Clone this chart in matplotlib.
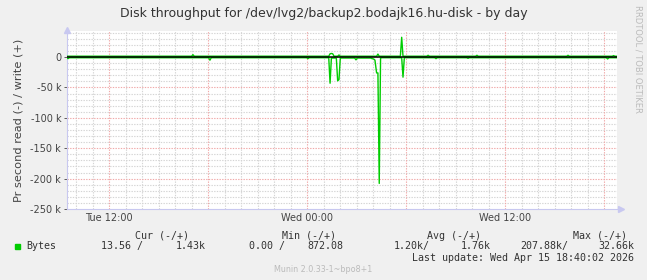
import matplotlib
matplotlib.use("Agg")
import matplotlib.pyplot as plt
from matplotlib.ticker import FixedLocator, MultipleLocator

# hours counted from Tue 00:00
read_hours = [9.42, 9.5, 9.58, 18.02, 18.1, 18.18, 23.96, 24.04, 24.12,
              25.3, 25.38, 25.46, 25.76, 25.84, 25.92, 26.0, 26.87, 26.95, 27.03,
              27.84, 27.92, 28.02, 28.1, 28.2, 28.28, 28.36, 28.44, 28.52,
              29.72, 29.8, 29.88, 31.72, 31.8, 31.88, 33.66, 33.74, 33.82,
              42.12, 42.2, 42.28, 42.75]
read_bytes = [1000, 2500, 1000, 1000, 5000, 1000, 1000, 2500, 1000,
              1000, 43000, 1500, 1500, 39000, 37000, 1500, 1500, 4500, 1500,
              1500, 2500, 3000, 5000, 26000, 26000, 207880, 1500, 1000,
              1000, 33000, 1000, 1000, 2500, 1000, 1000, 2000, 1000,
              1000, 3000, 1000, 1000]

write_hours = [9.42, 16.99, 17.07, 17.15, 25.3, 25.38, 25.46, 25.54, 25.62,
               25.84, 25.92, 26.0, 28.2, 28.28, 28.36, 29.64, 29.72, 29.8,
               31.24, 31.32, 31.4, 34.2, 34.28, 34.36, 39.72, 39.8, 39.88,
               42.48, 42.56, 42.64, 42.75]
write_bytes = [1500, 1500, 4000, 1500, 1500, 5500, 6000, 5500, 1500,
               1500, 3500, 1500, 1500, 5000, 1500, 1500, 32660, 1500,
               1500, 3000, 1500, 1500, 3000, 1500, 1500, 3000, 1500,
               1500, 2500, 1500, 1430]

x_tick_hours = [12, 24, 36]
x_tick_labels = ["Tue 12:00", "Wed 00:00", "Wed 12:00"]
y_ticks = [0, -50000, -100000, -150000, -200000, -250000]
y_tick_labels = ["0", "-50 k", "-100 k", "-150 k", "-200 k", "-250 k"]

series_name = "Bytes"
cur_vals = ("13.56", "1.43k")
min_vals = ("0.00", "872.08")
avg_vals = ("1.20k", "1.76k")
max_vals = ("207.88k", "32.66k")

BG = "#F0F0F0"
GREEN = "#00CC00"
AXIS = "#C8C8F0"
TXT = "#444444"
W, H = 647, 280

fig = plt.figure(figsize=(W / 100, H / 100), dpi=100, facecolor=BG)
ax = fig.add_axes([66.7 / W, 1 - 209 / H, 550 / W, 178 / H])
ax.set_facecolor("white")

ax.plot(write_hours, write_bytes, color=GREEN, lw=1.0, zorder=3)
ax.plot(read_hours, [-v for v in read_bytes], color=GREEN, lw=1.0, zorder=3)
ax.axhline(0, color="black", lw=1.1, zorder=4)

ax.set_xlim(9.42, 42.75)
ax.set_ylim(-250000, 43000)

ax.xaxis.set_major_locator(FixedLocator(x_tick_hours))
ax.set_xticklabels(x_tick_labels)
ax.xaxis.set_minor_locator(MultipleLocator(1))
ax.set_yticks(y_ticks)
ax.set_yticklabels(y_tick_labels)
ax.yaxis.set_minor_locator(MultipleLocator(10000))

minor_style = dict(color="#D4D4D4", lw=0.8, ls=(0, (1.2, 1.2)), zorder=1)
major_style = dict(color="#F0A8A8", lw=0.8, ls=(0, (1.2, 1.2)), zorder=2)
for h in range(10, 43):
    ax.axvline(h, **(major_style if h % 6 == 0 else minor_style))
for v in range(-240000, 50000, 10000):
    ax.axhline(v, **(major_style if v % 50000 == 0 else minor_style))

ax.tick_params(axis="both", which="major", labelsize=7, colors=TXT, length=2, width=0.6, pad=2)
ax.tick_params(axis="both", which="minor", length=0)
ax.tick_params(axis="x", which="major", length=0, pad=3)
for s in ["top", "right"]:
    ax.spines[s].set_visible(False)
for s in ["left", "bottom"]:
    ax.spines[s].set_color(AXIS)
    ax.spines[s].set_linewidth(0.8)
ax.plot([0], [1.005], marker="^", ms=4, color=AXIS, transform=ax.transAxes, clip_on=False)
ax.plot([1.008], [0], marker=">", ms=4, color=AXIS, transform=ax.transAxes, clip_on=False)

ax.set_ylabel("Pr second read (-) / write (+)", fontsize=8.2, color=TXT, labelpad=5)

fig.text(323.5 / W, 1 - 13 / H, "Disk throughput for /dev/lvg2/backup2.bodajk16.hu-disk - by day",
         ha="center", va="center", fontsize=9, color="#333333")
fig.text(638 / W, 1 - 5 / H, "RRDTOOL / TOBI OETIKER", rotation=270, ha="center", va="top",
         fontsize=6, color="#BBBBBB")

mono = dict(family="DejaVu Sans Mono", fontsize=7.2, color="#333333", va="center")
y_head = 1 - 236 / H
y_row = 1 - 246 / H
fig.text(189 / W, y_head, "Cur (-/+)", ha="right", **mono)
fig.text(335.5 / W, y_head, "Min (-/+)", ha="right", **mono)
fig.text(480.6 / W, y_head, "Avg (-/+)", ha="right", **mono)
fig.text(627 / W, y_head, "Max (-/+)", ha="right", **mono)

fig.patches.append(plt.Rectangle((14.5 / W, 1 - 249 / H), 5.5 / W, 5.5 / H,
                                 transform=fig.transFigure, color=GREEN))
fig.text(26.4 / W, y_row, series_name, ha="left", **mono)
cols = [(cur_vals, 142.6, 205.4, " /"), (min_vals, 285, 343, " /"),
        (avg_vals, 430, 491, "/"), (max_vals, 568, 634, "/")]
for vals, xl, xr, sep in cols:
    fig.text(xl / W, y_row, vals[0] + sep, ha="right", **mono)
    fig.text(xr / W, y_row, vals[1], ha="right", **mono)

fig.text(634 / W, 1 - 258 / H, "Last update: Wed Apr 15 18:40:02 2026", ha="right", **mono)
fig.text(323.5 / W, 1 - 270 / H, "Munin 2.0.33-1~bpo8+1", ha="center", va="center",
         fontsize=5.8, color="#BBBBBB")

fig.savefig("out.png", dpi=100, facecolor=BG)
